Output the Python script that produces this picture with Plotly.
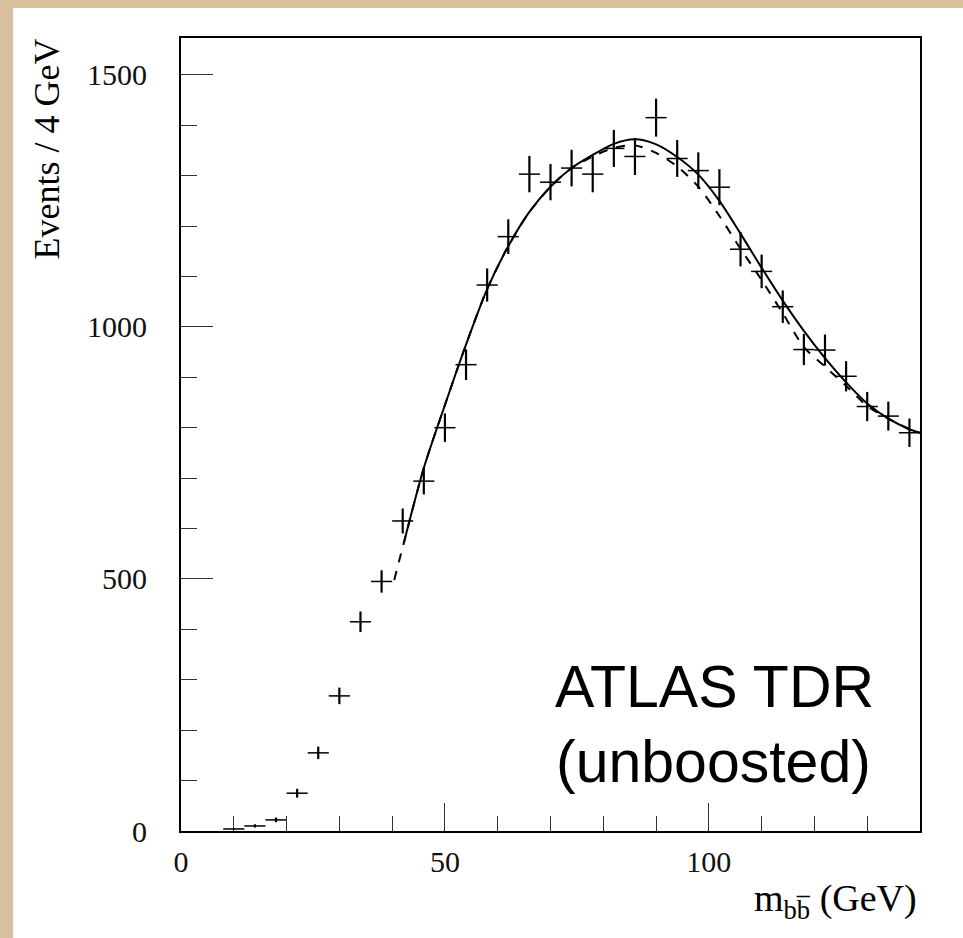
import plotly.graph_objects as go

# Data
bin_centers = [10, 14, 18, 22, 26, 30, 34, 38, 42, 46, 50, 54, 58, 62, 66, 70, 74, 78,
               82, 86, 90, 94, 98, 102, 106, 110, 114, 118, 122, 126, 130, 134, 138]
events = [4, 10, 22, 75, 155, 268, 415, 495, 615, 694, 800, 925, 1083, 1179, 1303, 1287,
          1315, 1303, 1354, 1338, 1415, 1334, 1310, 1277, 1154, 1110, 1040, 955, 954,
          902, 842, 823, 790]
event_errors = [2, 3.2, 4.7, 8.7, 12.4, 16.4, 20.4, 22.2, 24.8, 26.3, 28.3, 30.4, 32.9,
                34.3, 36.1, 35.9, 36.3, 36.1, 36.8, 36.6, 37.6, 36.5, 36.2, 35.7, 34.0,
                33.3, 32.2, 30.9, 30.9, 30.0, 29.0, 28.7, 28.1]
bin_half_width = 2

fit_solid_x = [42.2, 46, 50, 54, 58, 62, 66, 70, 74, 78, 82, 86, 90, 94, 98, 102, 106,
               110, 114, 118, 122, 126, 130, 134, 138, 140]
fit_solid_y = [571, 720, 845, 965, 1075, 1160, 1228, 1278, 1315, 1341, 1363, 1372, 1362,
               1337, 1302, 1250, 1185, 1117, 1052, 992, 938, 890, 848, 818, 797, 790]

fit_dashed_x = [40.4, 42.2, 46, 50, 54, 58, 62, 66, 70, 74, 78, 82, 86, 90, 94, 98, 102,
                106, 110, 114, 118, 122, 126, 130, 134, 138, 140]
fit_dashed_y = [498, 571, 720, 845, 965, 1075, 1160, 1228, 1278, 1315, 1338, 1355, 1360,
                1345, 1318, 1278, 1220, 1155, 1093, 1027, 960, 921, 883, 843, 818, 797, 790]

x_tick_vals = [0, 50, 100]
y_tick_vals = [0, 500, 1000, 1500]

fig = go.Figure()

fig.add_trace(go.Scatter(
    x=fit_dashed_x, y=fit_dashed_y, mode="lines",
    line=dict(color="black", width=2, dash="dash", shape="spline", smoothing=0.8),
    showlegend=False, hoverinfo="skip"))
fig.add_trace(go.Scatter(
    x=fit_solid_x, y=fit_solid_y, mode="lines",
    line=dict(color="black", width=2, shape="spline", smoothing=0.8),
    showlegend=False, hoverinfo="skip"))
fig.add_trace(go.Scatter(
    x=bin_centers, y=events, mode="markers",
    marker=dict(size=1, color="black", opacity=0),
    error_y=dict(type="data", array=event_errors, visible=True, width=0,
                 thickness=2.2, color="black"),
    error_x=dict(type="constant", value=bin_half_width, visible=True, width=0,
                 thickness=1.5, color="black"),
    showlegend=False))

L, R, T, B = 181, 43, 38, 107
W, H = 963, 938
pw, ph = W - L - R, H - T - B


def px_x(px):
    return (px - L) / pw


def px_y(py):
    return (H - B - py) / ph


fig.add_shape(type="rect", xref="paper", yref="paper",
              x0=px_x(13), x1=px_x(W + 20), y0=px_y(H + 20), y1=px_y(8),
              fillcolor="white", line=dict(width=0), layer="below")

fig.add_annotation(text="ATLAS TDR", xref="paper", yref="paper",
                   x=px_x(714), y=px_y(687), xanchor="center", yanchor="middle",
                   showarrow=False,
                   font=dict(family="Liberation Sans", size=59, color="black"))
fig.add_annotation(text="(unboosted)", xref="paper", yref="paper",
                   x=px_x(713), y=px_y(762), xanchor="center", yanchor="middle",
                   showarrow=False,
                   font=dict(family="Liberation Sans", size=59, color="black"))

fig.add_annotation(text="Events / 4 GeV", xref="paper", yref="paper",
                   x=px_x(47), y=px_y(37), xanchor="center", yanchor="top",
                   textangle=-90, showarrow=False,
                   font=dict(family="Liberation Serif", size=36, color="black"))

fig.add_annotation(text="m<sub>bb\u0305</sub> (GeV)", xref="paper", yref="paper",
                   x=px_x(919), y=px_y(901), xanchor="right",
                   yanchor="middle", showarrow=False,
                   font=dict(family="Liberation Serif", size=38, color="black"))

axis_common = dict(showgrid=False, zeroline=False, showline=True, mirror=True,
                   linecolor="black", ticks="inside", tickcolor="#333",
                   tickfont=dict(family="Liberation Serif", size=30, color="#111"))

fig.update_xaxes(range=[0, 140], tickvals=x_tick_vals, ticklen=28, tickwidth=1.3,
                 linewidth=1.6, ticklabelstandoff=3,
                 minor=dict(dtick=10, tick0=0, ticklen=15, tickwidth=1.3, ticks="inside",
                            tickcolor="#333", showgrid=False),
                 **axis_common)
fig.update_yaxes(range=[0, 1573], tickvals=y_tick_vals, ticklen=32, tickwidth=1.3,
                 linewidth=2, ticklabelstandoff=26,
                 minor=dict(dtick=100, tick0=0, ticklen=16, tickwidth=1.3, ticks="inside",
                            tickcolor="#333", showgrid=False),
                 **axis_common)

fig.update_layout(width=W, height=H, margin=dict(l=L, r=R, t=T, b=B, autoexpand=False),
                  paper_bgcolor="#d9c09c", plot_bgcolor="white")

fig.write_html("out.html")
